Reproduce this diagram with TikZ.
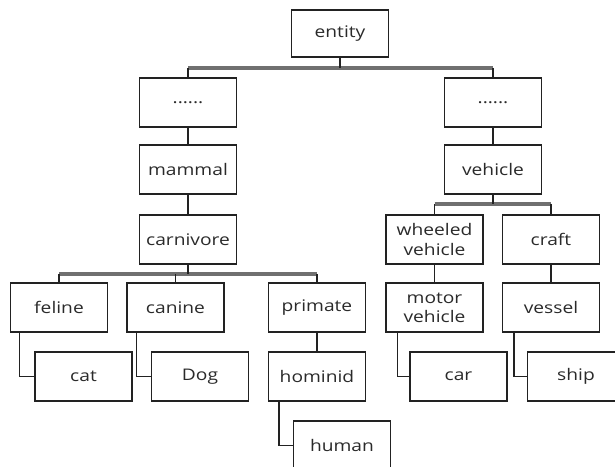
\documentclass[tikz,border=0pt]{standalone}
\usepackage{fontspec}
\setmainfont{Open Sans}[FakeStretch=1.2]
\usetikzlibrary{calc}
\definecolor{ink}{HTML}{222222}
\definecolor{txt}{HTML}{2A2A2A}
\definecolor{busc}{HTML}{707070}
\begin{document}
\begin{tikzpicture}[x=0.75pt,y=-0.75pt,
  box/.style={draw=ink,line width=1pt,fill=white,minimum width=72.75pt,minimum height=36.75pt,
    inner sep=0pt,align=center,text=txt,font=\fontsize{12pt}{14.5pt}\selectfont},
  link/.style={draw=ink,line width=1pt},
  bus/.style={draw=busc,line width=2.4pt}]
\useasboundingbox (0,0) rectangle (615,467);
\clip (0,0) rectangle (615,467);
\fill[white] (0,0) rectangle (615,467);
% nodes
\node[box,minimum height=35.25pt] (entity) at (340,33.5) {entity};
\node[box] (dotsL) at (188,102.5) {......};
\node[box] (dotsR) at (493,102.5) {......};
\node[box] (mammal) at (188,169.5) {mammal};
\node[box] (vehicle) at (493,169.5) {vehicle};
\node[box] (carnivore) at (188,239.5) {carnivore};
\node[box] (wheeled) at (434.5,239.5) {wheeled\\vehicle};
\node[box] (craft) at (551,239.5) {craft};
\node[box] (feline) at (59,307.5) {feline};
\node[box] (canine) at (175.5,307.5) {canine};
\node[box] (primate) at (317,307.5) {primate};
\node[box] (motor) at (434.5,307.5) {motor\\vehicle};
\node[box] (vessel) at (551,307.5) {vessel};
\node[box] (cat) at (83.5,376.5) {cat};
\node[box] (dog) at (200,376.5) {Dog};
\node[box] (hominid) at (317,376.5) {hominid};
\node[box] (car) at (458.5,376.5) {car};
\node[box] (ship) at (576,376.5) {ship};
\node[box] (human) at (342,445.5) {human};
% bus: entity
\coordinate (b1) at (340,68);
\draw[bus] (dotsL.north |- b1) -- (dotsR.north |- b1);
\draw[link] (entity.south) -- (b1);
\draw[link] (dotsL.north |- b1) -- (dotsL.north);
\draw[link] (dotsR.north |- b1) -- (dotsR.north);
% bus: carnivore
\coordinate (b2) at (188,274);
\draw[bus] (feline.north |- b2) -- (primate.north |- b2);
\draw[link] (carnivore.south) -- (b2);
\draw[link] (feline.north |- b2) -- (feline.north);
\draw[link] (canine.north |- b2) -- (canine.north);
\draw[link] (primate.north |- b2) -- (primate.north);
% bus: vehicle
\coordinate (b3) at (493,204);
\draw[bus] (wheeled.north |- b3) -- (craft.north |- b3);
\draw[link] (vehicle.south) -- (b3);
\draw[link] (wheeled.north |- b3) -- (wheeled.north);
\draw[link] (craft.north |- b3) -- (craft.north);
% straight links
\draw[link] (dotsL.south) -- (mammal.north);
\draw[link] (mammal.south) -- (carnivore.north);
\draw[link] (dotsR.south) -- (vehicle.north);
\draw[link] (wheeled.south) -- (motor.north);
\draw[link] (craft.south) -- (vessel.north);
\draw[link] (primate.south) -- (hominid.north);
% elbow links
\draw[link] ($(feline.south west)+(9.5,0)$) |- (cat.west);
\draw[link] ($(canine.south west)+(10,0)$) |- (dog.west);
\draw[link] ($(hominid.south west)+(11,0)$) |- (human.west);
\draw[link] ($(motor.south west)+(12,0)$) |- (car.west);
\draw[link] ($(vessel.south west)+(12,0)$) |- (ship.west);
\end{tikzpicture}
\end{document}
